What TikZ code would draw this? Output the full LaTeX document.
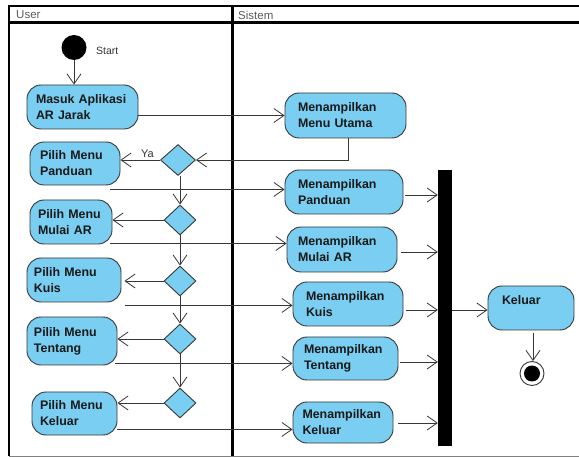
\documentclass[tikz,border=0pt]{standalone}
\usepackage{fontspec}
\setmainfont{Liberation Sans}
\usetikzlibrary{arrows.meta,shapes.geometric}
\definecolor{actfill}{RGB}{122,206,242}
\definecolor{linec}{RGB}{55,55,55}
\definecolor{headc}{RGB}{90,90,90}
\begin{document}
\begin{tikzpicture}[x=1pt,y=-1pt,
  act/.style={draw=linec, fill=actfill, rounded corners=14pt, line width=0.9pt,
    inner xsep=0pt, inner ysep=0pt, align=left,
    font=\bfseries\fontsize{12.4}{16}\selectfont, text=black!90},
  decide/.style={diamond, draw=linec, fill=actfill, line width=0.9pt,
    inner sep=0pt, minimum width=32pt, minimum height=30pt},
  flow/.style={draw=linec, line width=0.8pt,
    -{Straight Barb[length=10pt,width=14pt,line width=0.8pt]}},
  frameline/.style={draw=black, line width=2.2pt},
  lanehead/.style={font=\fontsize{11.5}{13}\selectfont, text=headc, anchor=west, inner sep=0pt}]
\useasboundingbox (0,0) rectangle (579,457);

% swimlane frame
\draw[frameline] (579,6) -- (9,6) -- (9,456);
\draw[frameline] (9,22.5) -- (579,22.5);
\draw[frameline] (232.5,6) -- (232.5,456);
\draw[draw=gray, line width=1pt] (9,456) -- (579,456);
\node[lanehead] (userlane) at (16,15) {User};
\node[lanehead] (syslane) at (238,15) {Sistem};

% start node
\node[circle, fill=black, minimum size=25pt, inner sep=0pt] (start) at (74,47.5) {};
\node[anchor=west, inner sep=0pt, font=\fontsize{10.5}{12}\selectfont, text=black!80] (startlbl) at (96,51) {Start};

% user activities
\node[act, minimum width=111pt, minimum height=44pt, text width=93pt] (masuk) at (82.5,107) {Masuk Aplikasi\\AR Jarak};
\node[act, minimum width=90pt, minimum height=43pt, text width=70pt] (panduan) at (75,163.5) {Pilih Menu\\Panduan};
\node[act, minimum width=82pt, minimum height=44pt, text width=66pt] (mulai) at (71,222) {Pilih Menu\\Mulai AR};
\node[act, minimum width=94pt, minimum height=44pt, text width=80pt] (kuis) at (74,280) {Pilih Menu\\Kuis};
\node[act, minimum width=90pt, minimum height=48pt, text width=76pt] (tentang) at (72,341) {Pilih Menu\\Tentang};
\node[act, minimum width=85pt, minimum height=43pt, text width=69pt] (keluarp) at (74.5,413.5) {Pilih Menu\\Keluar};

% decisions
\node[decide, minimum width=35pt, minimum height=31pt] (d1) at (178,160) {};
\node[decide] (d2) at (180,220) {};
\node[decide] (d3) at (180,281) {};
\node[decide] (d4) at (180,339) {};
\node[decide] (d5) at (180,403) {};

% system activities
\node[act, minimum width=121pt, minimum height=45pt, text width=95pt] (utama) at (345.5,115.5) {Menampilkan\\Menu Utama};
\node[act, minimum width=118pt, minimum height=44pt, text width=92pt] (mpanduan) at (344,192) {Menampilkan\\Panduan};
\node[act, minimum width=110pt, minimum height=45pt, text width=88pt] (mmulai) at (342,249.5) {Menampilkan\\Mulai AR};
\node[act, minimum width=110pt, minimum height=44pt, text width=84pt] (mkuis) at (348,304) {Menampilkan\\Kuis};
\node[act, minimum width=105pt, minimum height=43pt, text width=83pt] (mtentang) at (345.5,358.5) {Menampilkan\\Tentang};
\node[act, minimum width=100pt, minimum height=41pt, text width=81pt] (mkeluar) at (343,422.5) {Menampilkan\\Keluar};

% join bar, exit and final node
\node[fill=black, minimum width=14pt, minimum height=276pt, inner sep=0pt] (bar) at (445,308) {};
\node[act, minimum width=86pt, minimum height=44pt, text width=58pt] (keluar) at (531,308) {Keluar\\\mbox{}};
\node[circle, draw=linec, fill=white, line width=0.9pt, minimum size=24pt, inner sep=0pt] (final) at (532,373.5) {};
\node[circle, fill=black, minimum size=16pt, inner sep=0pt] (finaldot) at (final) {};

% start and main menu
\draw[flow] (start) -- (masuk.north -| start);
\draw[flow] (masuk.east |- utama.west) -- (utama.west);
\draw[flow] ([xshift=2.5pt]utama.south) |- (d1.east);

% decision chain
\draw[flow] (d1.west) -- node[above, pos=0.32, inner sep=2pt, font=\fontsize{11}{12}\selectfont, text=black!80] {Ya} (panduan.east |- d1.west);
\draw[flow] (d1.south -| d2.north) -- (d2.north);
\draw[flow] (d2.south) -- (d3.north);
\draw[flow] (d3.south) -- (d4.north);
\draw[flow] (d4.south) -- (d5.north);
\draw[flow] (d2.west) -- (mulai.east |- d2.west);
\draw[flow] (d3.west) -- ([xshift=3pt]kuis.east |- d3.west);
\draw[flow] (d4.west) -- (tentang.east |- d4.west);
\draw[flow] (d5.west) -- (keluarp.east |- d5.west);

% user choice to system
\draw[flow] ([xshift=-10pt,yshift=-4pt]panduan.south east) coordinate (p1) -- (p1 -| mpanduan.west);
\draw[flow] ([xshift=-2pt,yshift=1pt]mulai.south east) coordinate (p2) -- (p2 -| mmulai.west);
\draw[flow] ([xshift=4pt,yshift=-3pt]kuis.south east) coordinate (p3) -- (p3 -| mkuis.west);
\draw[flow] ([xshift=-2pt,yshift=2pt]tentang.south east) coordinate (p4) -- (p4 -| mtentang.west);
\draw[flow] ([xshift=0pt,yshift=6pt]keluarp.south east) coordinate (p5) -- (p5 -| mkeluar.west);

% system to join bar
\draw[flow] ([xshift=2pt,yshift=-3pt]mpanduan.east) coordinate (q1) -- (q1 -| bar.west);
\draw[flow] ([xshift=4pt,yshift=-2.5pt]mmulai.east) coordinate (q2) -- (q2 -| bar.west);
\draw[flow] ([xshift=3pt,yshift=-6pt]mkuis.east) coordinate (q3) -- (q3 -| bar.west);
\draw[flow] ([xshift=2pt,yshift=-3.5pt]mtentang.east) coordinate (q4) -- (q4 -| bar.west);
\draw[flow] ([xshift=5pt,yshift=-0.5pt]mkeluar.east) coordinate (q5) -- (q5 -| bar.west);

% exit
\draw[flow] ([yshift=-2pt]bar.east) coordinate (q6) -- (q6 -| keluar.west);
\draw[flow] ([xshift=2pt,yshift=-3pt]keluar.south) -- ([xshift=1pt]final.north);
\end{tikzpicture}
\end{document}
